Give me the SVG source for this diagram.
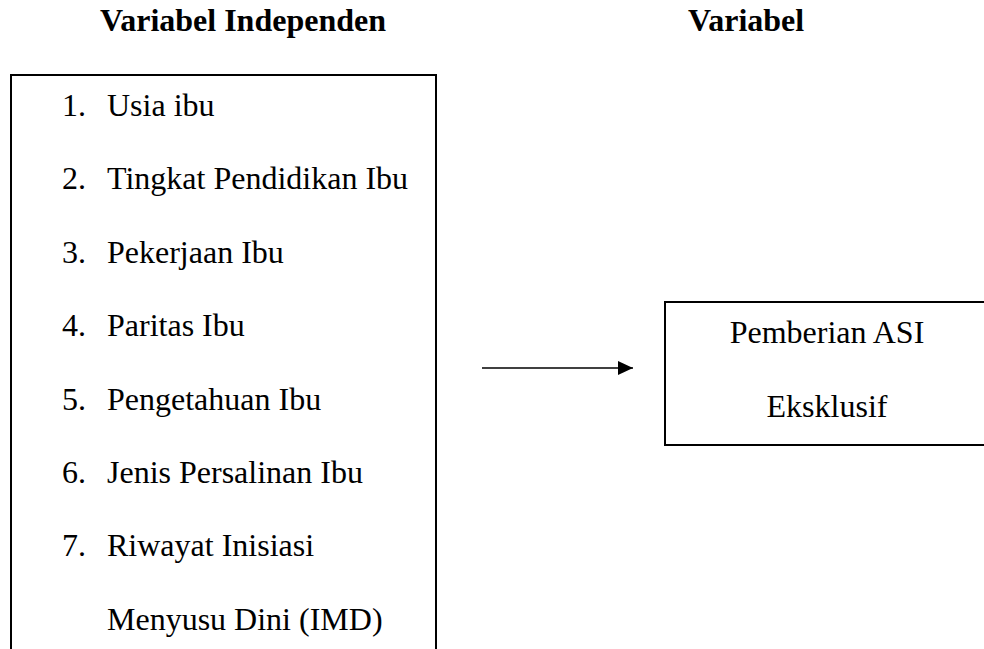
<svg xmlns="http://www.w3.org/2000/svg" width="984" height="649" viewBox="0 0 984 649">
  <style>
    .t { font-family: "Liberation Serif", "Times New Roman", serif; font-size: 32px; fill: #000; }
    .h { font-family: "Liberation Serif", "Times New Roman", serif; font-size: 32px; font-weight: bold; fill: #000; }
    .box { fill: #fff; stroke: #000; stroke-width: 2; }
    .c { text-anchor: middle; }
  </style>
  <defs>
    <marker id="arrow" markerWidth="15" markerHeight="14" refX="15" refY="7" orient="auto" markerUnits="userSpaceOnUse">
      <path d="M0,0 L15,7 L0,14 Z" fill="#000"/>
    </marker>
  </defs>
  <rect width="984" height="649" fill="#fff"/>
  <g id="title-independen"><text class="h" x="100" y="31">Variabel Independen</text></g>
  <g id="title-variabel"><text class="h" x="688" y="31">Variabel</text></g>
  <g id="independent-box">
    <rect class="box" x="11" y="75" width="425" height="600"/>
    <text class="t" x="62" y="116">1.</text><text class="t" x="107" y="116">Usia ibu</text>
    <text class="t" x="62" y="189">2.</text><text class="t" x="107" y="189">Tingkat Pendidikan Ibu</text>
    <text class="t" x="62" y="263">3.</text><text class="t" x="107" y="263">Pekerjaan Ibu</text>
    <text class="t" x="62" y="336">4.</text><text class="t" x="107" y="336">Paritas Ibu</text>
    <text class="t" x="62" y="410">5.</text><text class="t" x="107" y="410">Pengetahuan Ibu</text>
    <text class="t" x="62" y="483">6.</text><text class="t" x="107" y="483">Jenis Persalinan Ibu</text>
    <text class="t" x="62" y="556">7.</text><text class="t" x="107" y="556">Riwayat Inisiasi</text>
    <text class="t" x="107" y="630">Menyusu Dini (IMD)</text>
  </g>
  <g id="dependent-box">
    <rect class="box" x="665" y="302" width="340" height="143"/>
    <text class="t c" x="827" y="343">Pemberian ASI</text>
    <text class="t c" x="827" y="417">Eksklusif</text>
  </g>
  <g id="connectors">
    <line x1="482" y1="368" x2="633" y2="368" stroke="#000" stroke-width="1.5" marker-end="url(#arrow)"/>
  </g>
</svg>
